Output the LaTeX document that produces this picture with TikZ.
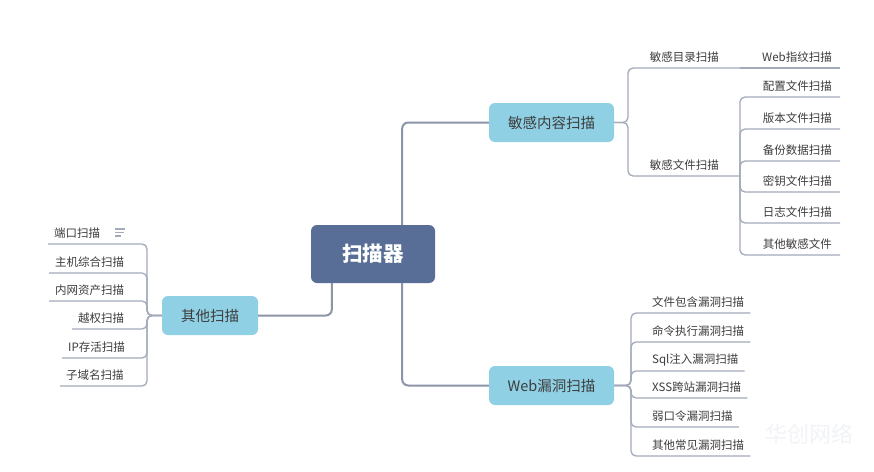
\documentclass[tikz,border=0pt]{standalone}
\usepackage{fontspec}
\setmainfont{Noto Sans CJK SC}
\definecolor{cdark}{HTML}{596E96}
\definecolor{clight}{HTML}{8FD0E4}
\definecolor{cline}{HTML}{8C94A7}
\definecolor{csub}{HTML}{A3AABA}
\definecolor{ctext}{HTML}{3D3D3D}
\definecolor{cwm}{HTML}{F1F3F6}
\tikzset{
  center/.style={rounded corners=6pt, fill=cdark, text=white, minimum width=124pt, minimum height=58pt,
    font=\fontsize{20.5}{22}\selectfont\bfseries},
  branch/.style={rounded corners=6pt, fill=clight, text=ctext, minimum width=125pt, minimum height=39pt,
    font=\fontsize{14.5}{16}\selectfont},
  leaf/.style={text=ctext, inner xsep=6pt, inner ysep=0pt, minimum height=21pt,
    font=\fontsize{11.5}{13}\selectfont},
  mainl/.style={draw=cline, line width=2pt, rounded corners=6pt},
  subl/.style={draw=csub, line width=1.3pt, rounded corners=5pt},
}
\begin{document}
\begin{tikzpicture}[x=1pt,y=-1pt]
\useasboundingbox[fill=white] (0,0) rectangle (874,471);
% main nodes
\node[center] (c) at (373,254) {扫描器};
\node[branch] (sens) at (551.5,122.5) {敏感内容扫描};
\node[branch] (webv) at (551.5,385.5) {Web漏洞扫描};
\node[branch, minimum width=96pt] (other) at (210,315.5) {其他扫描};
% main connectors
\draw[mainl] ([xshift=-33pt]c.north east) |- (sens.west);
\draw[mainl] ([xshift=-33pt]c.south east) |- (webv.west);
\draw[mainl] ([xshift=21pt]c.south west) |- (other.east);
% trunks
\coordinate (tL) at (147,315.5);
\coordinate (tR) at (628,122.5);
\coordinate (tW) at (631,385.5);
% left leaves
\node[leaf, anchor=south west] (o1) at (48,244) {端口扫描\hspace{40pt}};
\node[leaf, anchor=south west] (o2) at (49,273) {主机综合扫描};
\node[leaf, anchor=south west] (o3) at (49,301) {内网资产扫描};
\node[leaf, anchor=south west] (o4) at (72,329) {越权扫描};
\node[leaf, anchor=south west] (o5) at (62,358) {IP存活扫描};
\node[leaf, anchor=south west] (o6) at (60,386) {子域名扫描};
\foreach \i in {1,...,6}{\draw[subl] (other.west) -- (tL) |- (o\i.south west);}
% note icon
\draw[csub, line width=1.3pt] (115,229) -- (125,229) (115,232.5) -- (124,232.5) (115,236) -- (121,236);
% sensitive content
\node[leaf, anchor=south east, inner xsep=21pt] (d1) at (740,68) {敏感目录扫描};
\node[leaf, anchor=south east, inner xsep=21pt] (d2) at (740,176) {敏感文件扫描};
\node[leaf, anchor=south east, inner xsep=8pt] (w1) at (840,68) {Web指纹扫描};
\draw[subl] (sens.east) -- (tR) |- (d1.south east);
\draw[subl] (sens.east) -- (tR) |- (d2.south east);
\draw[subl] (d1.south east) -- (w1.south east);
\node[leaf, anchor=south east, inner xsep=8pt] (f1) at (840,97) {配置文件扫描};
\node[leaf, anchor=south east, inner xsep=8pt] (f2) at (840,129) {版本文件扫描};
\node[leaf, anchor=south east, inner xsep=8pt] (f3) at (840,161) {备份数据扫描};
\node[leaf, anchor=south east, inner xsep=8pt] (f4) at (840,192) {密钥文件扫描};
\node[leaf, anchor=south east, inner xsep=8pt] (f5) at (840,223) {日志文件扫描};
\node[leaf, anchor=south east, inner xsep=8pt] (f6) at (840,255) {其他敏感文件};
\foreach \i in {1,...,6}{\draw[subl] (d2.south east) |- (f\i.south east);}
% web vulns
\node[leaf, anchor=south west] (v1) at (646,313) {文件包含漏洞扫描};
\node[leaf, anchor=south west] (v2) at (646,342) {命令执行漏洞扫描};
\node[leaf, anchor=south west] (v3) at (646,371) {Sql注入漏洞扫描};
\node[leaf, anchor=south west] (v4) at (646,398) {XSS跨站漏洞扫描};
\node[leaf, anchor=south west] (v5) at (646,427) {弱口令漏洞扫描};
\node[leaf, anchor=south west] (v6) at (646,456) {其他常见漏洞扫描};
\foreach \i in {1,...,6}{\draw[subl] (webv.east) -- (tW) |- (v\i.south east);}
% watermark
\node[text=cwm, font=\fontsize{22}{24}\selectfont] (wm) at (809,434) {华创网络};
\end{tikzpicture}
\end{document}
